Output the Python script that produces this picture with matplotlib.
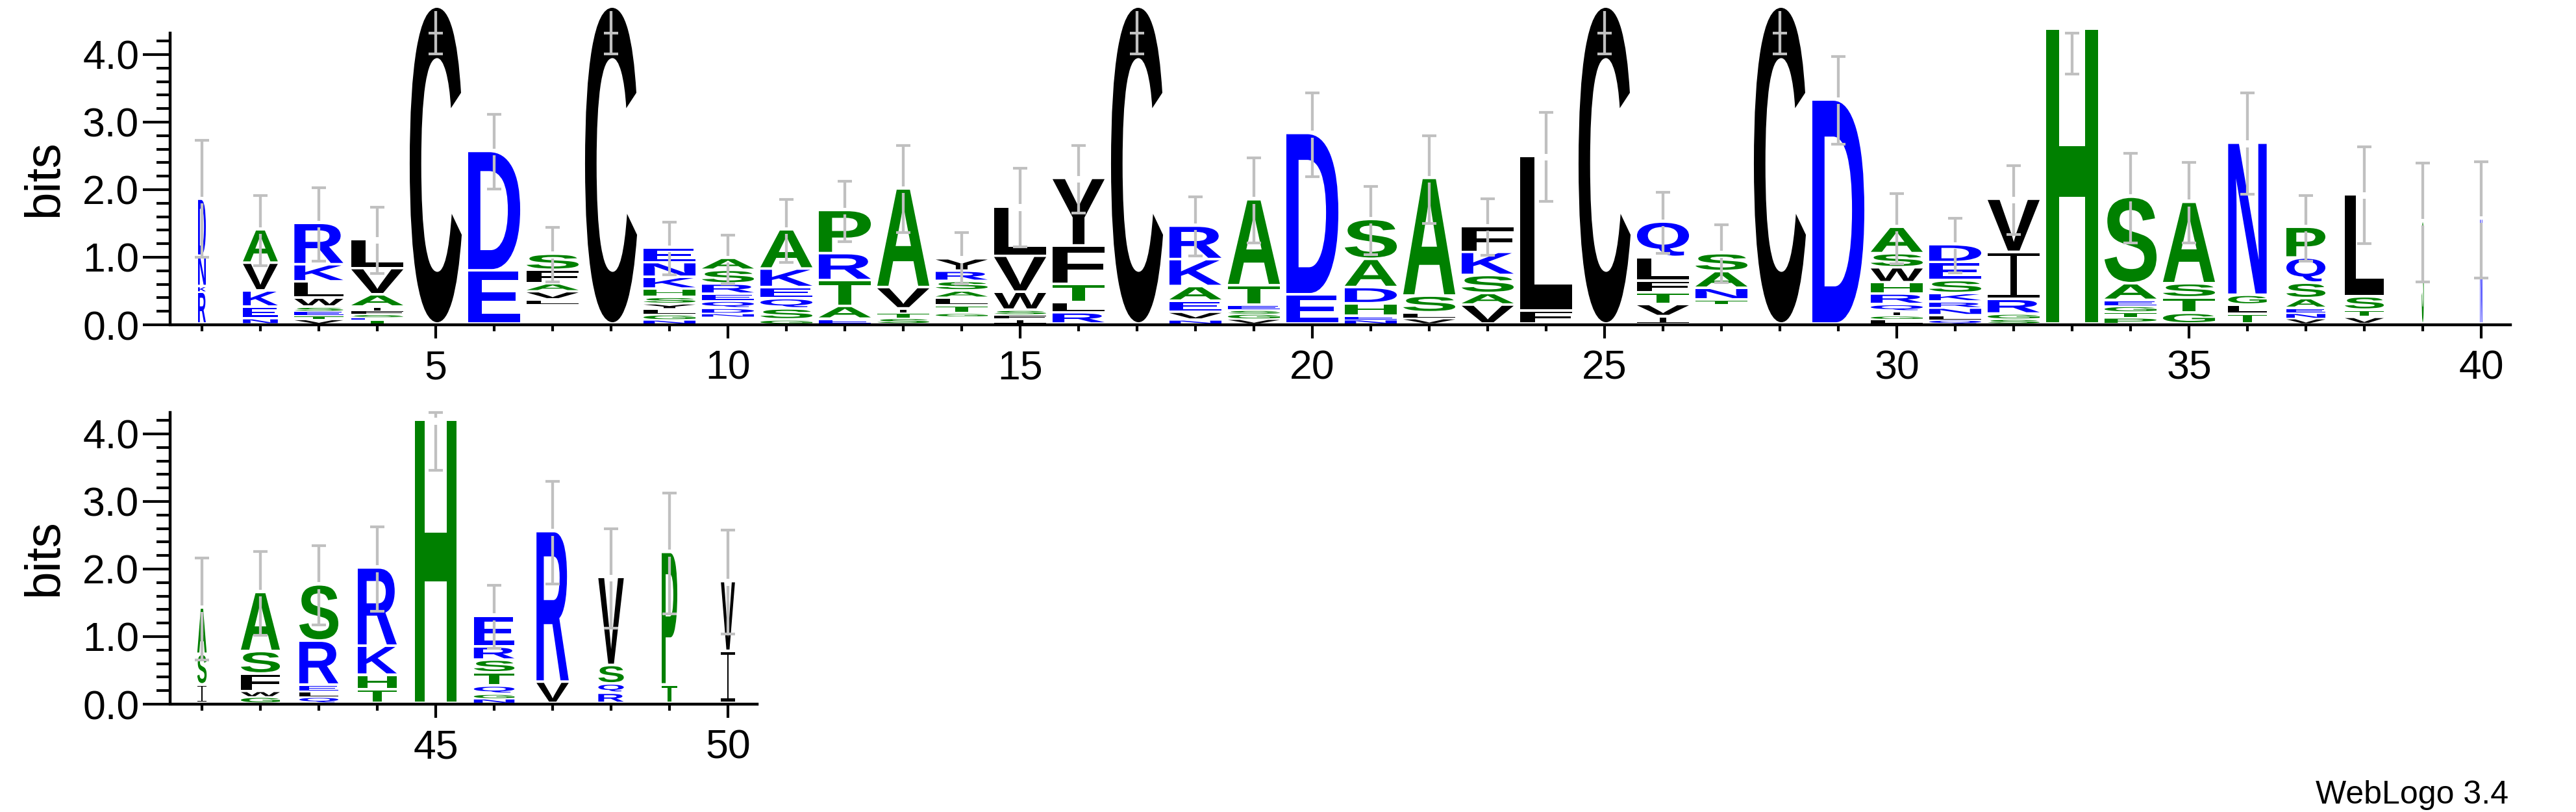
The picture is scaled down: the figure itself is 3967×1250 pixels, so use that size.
import numpy as np
import matplotlib
matplotlib.use("Agg")
import matplotlib.pyplot as plt
from matplotlib.textpath import TextPath
from matplotlib.patches import PathPatch
from matplotlib.path import Path
from matplotlib.font_manager import FontProperties
from matplotlib.transforms import Affine2D, Bbox
from matplotlib.ticker import FixedLocator, FormatStrFormatter

plt.rcParams['font.family'] = ['Liberation Sans', 'DejaVu Sans']

# ---------------- data ----------------
positions = list(range(1, 51))

# letters of each stack, top to bottom (' ' = empty space)
letters = [
    "DNKR", "AVKEN", "RKLWSETV", "LVAIFSET", "C", "DE", "SFAVL ", "C",
    "ENKHSYLGN", "ASREQDN ", "AKEQSG", "PRTAE", "AVITS", "YRSALTG ",
    "LVWSFI", "YFTLR", "C", "RKAEVN", "ATESGV", "DE", "SADHEN", "ASLV",
    "FKSAV", "LF", "C", "QLFTVI", "SANT ", "C", "D", "ASWHRQIGL",
    "DESKRNLQ", "VIRGS", "H", "SAEGTP", "ASTG", "NGLT", "PQSAENV", "LSTV",
    "S", "N",
    "ASI", "ASFWG", "SRELQ", "RKHT", "H", "ERSTQGN", "RV", "VSQR", "PT", "VI",
]

# heights (bits) of each letter, same order
heights = [
    [0.844, 0.449, 0.084, 0.471],
    [0.494, 0.411, 0.239, 0.171, 0.080],
    [0.612, 0.254, 0.240, 0.133, 0.061, 0.068, 0.054, 0.068],
    [0.430, 0.388, 0.182, 0.053, 0.054, 0.045, 0.038, 0.061],
    [4.692],
    [1.768, 0.787],
    [0.239, 0.198, 0.118, 0.120, 0.078, 0.281],
    [4.692],
    [0.216, 0.217, 0.175, 0.122, 0.095, 0.076, 0.087, 0.076, 0.061],
    [0.178, 0.202, 0.152, 0.103, 0.106, 0.076, 0.050, 0.106],
    [0.581, 0.274, 0.164, 0.152, 0.163, 0.061],
    [0.639, 0.399, 0.381, 0.190, 0.072],
    [1.460, 0.316, 0.064, 0.076, 0.084],
    [0.183, 0.152, 0.141, 0.102, 0.114, 0.114, 0.050, 0.110],
    [0.730, 0.533, 0.266, 0.068, 0.065, 0.072],
    [1.000, 0.570, 0.267, 0.152, 0.167],
    [4.692],
    [0.495, 0.399, 0.217, 0.163, 0.114, 0.061],
    [1.273, 0.286, 0.076, 0.057, 0.076, 0.072],
    [2.388, 0.433],
    [0.590, 0.418, 0.240, 0.182, 0.053, 0.065],
    [1.742, 0.247, 0.087, 0.080],
    [0.380, 0.342, 0.267, 0.171, 0.281],
    [2.285, 0.194],
    [4.692],
    [0.525, 0.350, 0.171, 0.175, 0.179, 0.110],
    [0.266, 0.247, 0.172, 0.076, 0.281],
    [4.692],
    [3.316],
    [0.391, 0.209, 0.221, 0.167, 0.156, 0.103, 0.064, 0.050, 0.072],
    [0.266, 0.266, 0.191, 0.125, 0.091, 0.107, 0.068, 0.061],
    [0.787, 0.696, 0.217, 0.076, 0.072],
    [4.369],
    [1.281, 0.247, 0.088, 0.087, 0.084, 0.091],
    [1.205, 0.209, 0.228, 0.160],
    [2.251, 0.145, 0.133, 0.148],
    [0.456, 0.372, 0.229, 0.144, 0.072, 0.080, 0.080],
    [1.513, 0.198, 0.106, 0.099],
    [1.517],
    [1.555],
    [0.685, 0.453, 0.274],
    [0.874, 0.333, 0.257, 0.085, 0.093],
    [0.833, 0.651, 0.100, 0.078, 0.093],
    [1.158, 0.429, 0.212, 0.206],
    [4.188],
    [0.456, 0.195, 0.189, 0.195, 0.120, 0.068, 0.069],
    [2.228, 0.315],
    [1.303, 0.274, 0.137, 0.151],
    [1.961, 0.274],
    [1.032, 0.771],
]

# relative stack widths (fraction of a full column)
widths = [0.15, 0.67, 0.94] + [1.0] * 32 + [0.74, 0.75, 0.75, 0.04, 0.04] + \
         [0.18, 0.75, 0.75, 0.75, 0.81, 0.78, 0.62, 0.49, 0.30, 0.27]

# error bars (bits)
err_hi = [2.734, 1.916, 2.030, 1.745, 4.654, 3.114, 1.441, 4.654, 1.517, 1.327,
          1.859, 2.125, 2.658, 1.365, 2.316, 2.658, 4.654, 1.897, 2.468, 3.437,
          2.049, 2.802, 1.867, 3.144, 4.654, 1.962, 1.479, 4.654, 3.970, 1.947,
          1.574, 2.354, 4.369, 2.536, 2.403, 3.430, 1.916, 2.639, 2.392, 2.411,
          2.159, 2.259, 2.348, 2.629, 4.315, 1.755, 3.297, 2.595, 3.126, 2.578]
err_lo = [1.004, 0.878, 0.947, 0.757, 4.008, 2.011, 0.635, 4.008, 0.738, 0.605,
          0.920, 1.232, 1.365, 0.605, 1.156, 1.650, 4.008, 1.023, 1.213, 2.190,
          1.042, 1.498, 1.030, 1.829, 4.008, 1.061, 0.624, 4.008, 2.677, 0.901,
          0.768, 1.335, 3.715, 1.213, 1.213, 1.935, 0.947, 1.202, 0.635, 0.688,
          0.658, 1.018, 1.172, 1.378, 3.458, 0.829, 1.782, 1.121, 1.337, 1.035]

x_labels_top = [5, 10, 15, 20, 25, 30, 35, 40]
x_labels_bottom = [45, 50]
y_labels = [0, 1, 2, 3, 4]
YMAX = 4.32

# ---------------- styles ----------------
BLUE, GREEN, BLACK = '#0000FF', '#008000', '#000000'
COLORS = {}
for c in 'RKDENQ':
    COLORS[c] = BLUE
for c in 'SGHTAP':
    COLORS[c] = GREEN
for c in 'VLIMFWCY':
    COLORS[c] = BLACK

FP_SANS = FontProperties(family='Liberation Sans', weight='bold')
_glyphs = {}


def i_beam(t=0.06, s=0.06):
    v = [(0, 0), (1, 0), (1, t), (0.5 + s, t), (0.5 + s, 1 - t), (1, 1 - t),
         (1, 1), (0, 1), (0, 1 - t), (0.5 - s, 1 - t), (0.5 - s, t), (0, t), (0, 0)]
    codes = [Path.MOVETO] + [Path.LINETO] * 11 + [Path.CLOSEPOLY]
    return Path(v, codes)


def glyph(ch):
    if ch not in _glyphs:
        if ch == 'I':
            _glyphs[ch] = (i_beam(), Bbox([[0, 0], [1, 1]]))
        else:
            p = TextPath((0, 0), ch, size=1, prop=FP_SANS)
            _glyphs[ch] = (p, p.get_extents())
    return _glyphs[ch]


FULL_W = 0.89
GAP = 0.038
ERR_COLOR = '#C0C0C0'


def draw_stack(ax, x, lets, hs, wfrac):
    w = FULL_W * wfrac
    y_top = sum(hs)
    for ch, h in zip(lets, hs):
        y_bot = y_top - h
        if ch != ' ':
            g = min(GAP, 0.3 * h)
            path, ext = glyph(ch)
            sx = w / ext.width
            sy = (h - g) / ext.height
            tr = Affine2D().translate(-ext.x0, -ext.y0).scale(sx, sy) \
                .translate(x - w / 2, y_bot + g)
            patch = PathPatch(tr.transform_path(path), facecolor=COLORS[ch],
                              edgecolor='none', transform=ax.transData,
                              clip_on=False, zorder=2)
            ax.add_patch(patch)
        y_top = y_bot
    return sum(hs)


def draw_err(ax, x, lo, hi, top):
    gap = 0.05
    segs = []
    if top - gap > lo:
        segs.append((lo, min(hi, top - gap)))
    if top + gap < hi:
        segs.append((max(lo, top + gap), hi))
    for a, b in segs:
        ax.plot([x, x], [a, b], color=ERR_COLOR, lw=3.1,
                solid_capstyle='butt', clip_on=False, zorder=3)
    cw = 0.117
    for yc in (lo, min(hi, YMAX)):
        ax.plot([x - cw, x + cw], [yc, yc], color=ERR_COLOR, lw=3.0,
                solid_capstyle='butt', clip_on=False, zorder=3)


fig = plt.figure(figsize=(39.67, 12.5), dpi=100)
ax_top = fig.add_axes([0.06592, 0.6, 0.90862, 0.35944])
ax_bot = fig.add_axes([0.06592, 0.1328, 0.22801, 0.35944])

rows = [(ax_top, 0, 40, x_labels_top), (ax_bot, 40, 50, x_labels_bottom)]
for ax, i0, i1, xl in rows:
    for i in range(i0, i1):
        top = draw_stack(ax, positions[i], letters[i], heights[i], widths[i])
        draw_err(ax, positions[i], err_lo[i], err_hi[i], top)
    ax.set_xlim(positions[i0] - 0.55, positions[i1 - 1] + 0.5)
    ax.set_ylim(0, YMAX)
    for s in ('top', 'right'):
        ax.spines[s].set_visible(False)
    for s in ('left', 'bottom'):
        ax.spines[s].set_linewidth(3.2)
    ax.spines['bottom'].set_bounds(positions[i0] - 0.5, positions[i1 - 1] + 0.5)
    ax.spines['left'].set_bounds(0, YMAX)
    ax.xaxis.set_major_locator(FixedLocator(xl))
    ax.xaxis.set_minor_locator(FixedLocator([p for p in positions[i0:i1] if p not in xl]))
    ax.yaxis.set_major_locator(FixedLocator(y_labels))
    ax.yaxis.set_minor_locator(FixedLocator([round(0.2 * k, 1) for k in range(1, 22) if k % 5 != 0]))
    ax.yaxis.set_major_formatter(FormatStrFormatter('%.1f'))
    ax.tick_params(axis='y', which='major', length=30, width=3, labelsize=45, pad=4)
    ax.tick_params(axis='y', which='minor', length=15, width=3)
    ax.tick_params(axis='x', which='major', length=15, width=3, labelsize=45, pad=12)
    ax.tick_params(axis='x', which='minor', length=7.5, width=3)
    ax.patch.set_alpha(0)

fig.text(69 / 3967, 0.78, 'bits', rotation=90, ha='center', va='center', fontsize=55)
fig.text(69 / 3967, 0.3128, 'bits', rotation=90, ha='center', va='center', fontsize=55)
fig.text(0.9738, 0.0104, 'WebLogo 3.4', ha='right', va='baseline', fontsize=36)

fig.savefig('out.png', dpi=100)
